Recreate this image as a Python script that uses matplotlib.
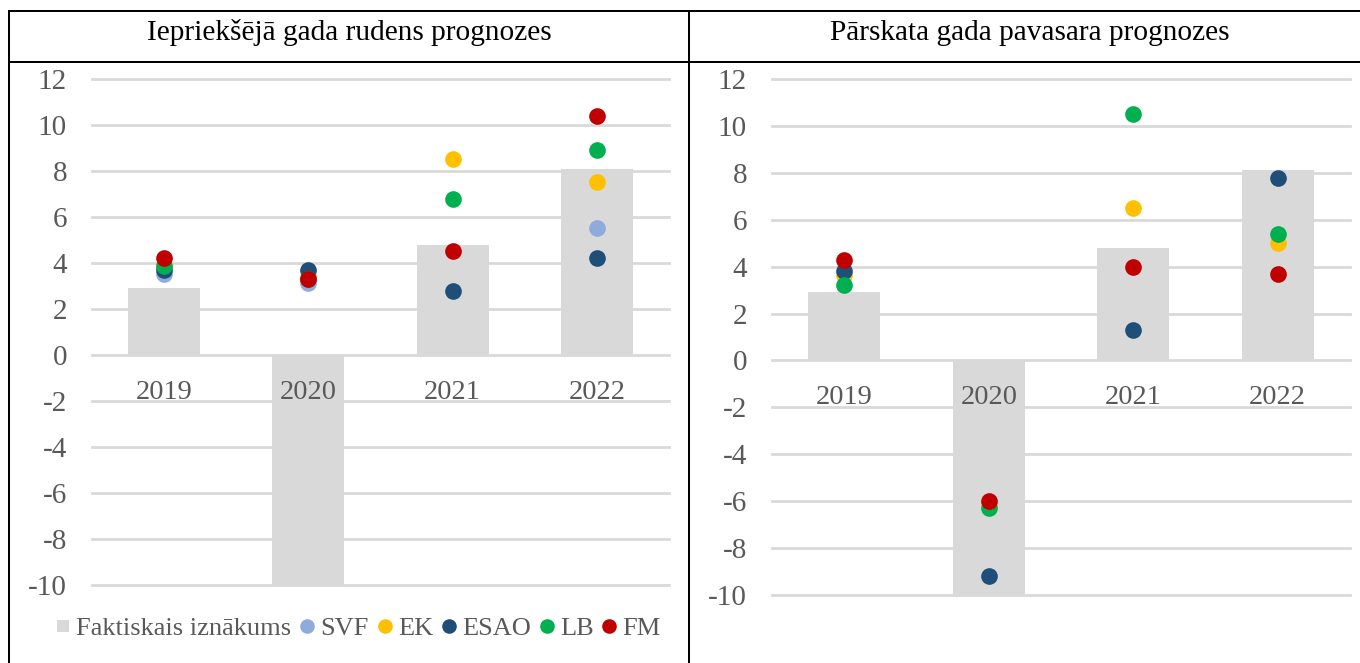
import matplotlib
matplotlib.use('Agg')
import matplotlib.pyplot as plt
from matplotlib.lines import Line2D
import numpy as np

nan = np.nan

# ---- data ----
years = ['2019', '2020', '2021', '2022']
panel_titles = ['Iepriekšējā gada rudens prognozes', 'Pārskata gada pavasara prognozes']
bar_label = 'Faktiskais iznākums'
series_names = ['SVF', 'EK', 'ESAO', 'LB', 'FM']
series_colors = ['#8FAADC', '#FFC000', '#1F4E79', '#00B050', '#C00000']
bar_color = '#D9D9D9'

actual = [2.9, -10.0, 4.8, 8.1]

autumn_svf = [3.5, 3.15, nan, 5.5]
autumn_ek = [3.9, 3.45, 8.5, 7.5]
autumn_esao = [3.7, 3.7, 2.8, 4.2]
autumn_lb = [3.85, 3.3, 6.8, 8.9]
autumn_fm = [4.2, 3.3, 4.5, 10.4]

spring_svf = [nan, nan, nan, nan]
spring_ek = [3.65, -6.1, 6.5, 5.0]
spring_esao = [3.8, -9.2, 1.3, 7.8]
spring_lb = [3.2, -6.3, 10.5, 5.4]
spring_fm = [4.3, -6.0, 4.0, 3.7]

yticks = [-10, -8, -6, -4, -2, 0, 2, 4, 6, 8, 10, 12]

autumn = [autumn_svf, autumn_ek, autumn_esao, autumn_lb, autumn_fm]
spring = [spring_svf, spring_ek, spring_esao, spring_lb, spring_fm]

# ---- style ----
W, H = 1360, 663
plt.rcParams['font.family'] = ['Liberation Serif', 'DejaVu Serif']
txt_gray = '#595959'
grid_gray = '#D9D9D9'

fig = plt.figure(figsize=(W / 100, H / 100), dpi=100)

def fx(px):
    return px / W

def fy(py):
    return 1 - py / H

# axes rectangles (pixel coordinates: left, right, top(12), bottom(-10))
rects = [(92, 669, 79, 585), (772, 1350, 79, 595)]
datasets = [autumn, spring]

axes = []
for (l, r, t, b), data in zip(rects, datasets):
    ax = fig.add_axes([fx(l), fy(b), fx(r - l), (b - t) / H])
    x = np.arange(len(years))
    ax.bar(x, actual, width=0.5, color=bar_color, zorder=2, label=bar_label)
    for vals, col, name in zip(data, series_colors, series_names):
        ax.plot(x, vals, linestyle='none', marker='o', markersize=12,
                markeredgewidth=0, color=col, zorder=3, label=name)
    ax.set_xlim(-0.5, len(years) - 0.5)
    ax.set_ylim(-10, 12)
    ax.set_yticks(yticks)
    ax.set_yticklabels([str(v) for v in yticks])
    for yv in yticks:
        ax.axhline(yv, color=grid_gray, linewidth=2.0, zorder=1, clip_on=False)
    ax.tick_params(axis='y', length=0, pad=18, labelsize=21, labelcolor=txt_gray)
    ax.set_xticks([])
    for i, yr in enumerate(years):
        ax.annotate(yr, xy=(i, 0), xytext=(0, -44), textcoords='offset pixels',
                    ha='center', va='baseline', fontsize=20.5, color=txt_gray, zorder=4)
    for s in ax.spines.values():
        s.set_visible(False)
    ax.set_facecolor('none')
    axes.append(ax)

# ---- table borders ----
lw = 2.0
border = dict(color='black', linewidth=lw * 0.72, solid_capstyle='butt')
fig.add_artist(Line2D([fx(8), 1.0], [fy(11), fy(11)], **border))
fig.add_artist(Line2D([fx(8), 1.0], [fy(62), fy(62)], **border))
fig.add_artist(Line2D([fx(9), fx(9)], [fy(10), 0], **border))
fig.add_artist(Line2D([fx(689), fx(689)], [fy(10), 0], **border))

# ---- headers ----
fig.text(fx(349.5), fy(40), panel_titles[0], ha='center', va='baseline',
         fontsize=21.2, color='black')
fig.text(fx(1029.5), fy(40), panel_titles[1], ha='center', va='baseline',
         fontsize=21.2, color='black')

# ---- legend (left panel only) ----
handles = [Line2D([], [], linestyle='none', marker='s', markersize=9,
                  markeredgewidth=0, color=bar_color)]
handles += [Line2D([], [], linestyle='none', marker='o', markersize=10.5,
                   markeredgewidth=0, color=c) for c in series_colors]
labels = [bar_label] + series_names
leg = fig.legend(handles, labels, loc='center', bbox_to_anchor=(fx(358), fy(628)),
                 ncol=6, frameon=False, fontsize=19, handlelength=0.6,
                 handletextpad=0.2, columnspacing=0.3, borderpad=0, borderaxespad=0)
for t in leg.get_texts():
    t.set_color(txt_gray)

fig.savefig('out.png', dpi=100)
